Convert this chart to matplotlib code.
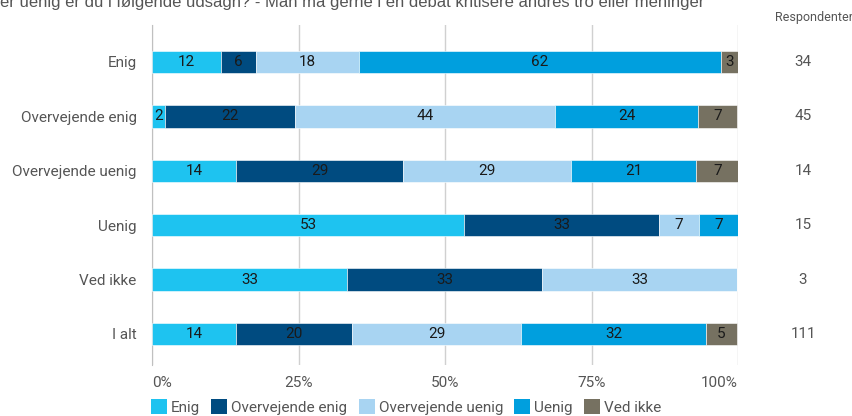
import numpy as np
import matplotlib.pyplot as plt
from matplotlib.patches import Patch

plt.rcParams['font.family'] = ['Roboto', 'DejaVu Sans']

# data
kategorier = ['Enig', 'Overvejende enig', 'Overvejende uenig', 'Uenig', 'Ved ikke', 'I alt']
respondenter = [34, 45, 14, 15, 3, 111]
serier = ['Enig', 'Overvejende enig', 'Overvejende uenig', 'Uenig', 'Ved ikke']
enig = [11.8, 2.2, 14.3, 53.3, 33.3, 14.4]
overv_enig = [5.9, 22.2, 28.6, 33.3, 33.3, 19.8]
overv_uenig = [17.6, 44.4, 28.6, 6.7, 33.3, 28.8]
uenig = [61.8, 24.4, 21.4, 6.7, 0, 31.5]
ved_ikke = [2.9, 6.7, 7.1, 0, 0, 5.4]
farver = ['#1ec3f0', '#004b80', '#a8d4f2', '#009fde', '#767161']

titel = 'er uenig er du i følgende udsagn? - Man må gerne i en debat kritisere andres tro eller meninger'

W, H = 852, 416
fig = plt.figure(figsize=(W / 100, H / 100), dpi=100)
x0, x1 = 152, 738
ax = fig.add_axes([x0 / W, 1 - 365 / H, (x1 - x0) / W, (365 - 25) / H])

y = np.arange(len(kategorier))
venstre = np.zeros(len(kategorier))
for navn, vals, farve in zip(serier, [enig, overv_enig, overv_uenig, uenig, ved_ikke], farver):
    vals = np.array(vals)
    ax.barh(y, vals, left=venstre, height=0.41, color=farve, edgecolor='white',
            linewidth=0.4, zorder=3)
    for i, v in enumerate(vals):
        if v > 0:
            ax.text(venstre[i] + v / 2, y[i], str(int(round(v))), ha='center', va='center',
                    fontsize=11, color='#1a1a1a', zorder=4)
    venstre += vals

ax.set_xlim(0, 100)
ax.set_ylim(5.57, -0.68)
ax.set_yticks(y)
ax.set_yticklabels(kategorier, fontsize=11, color='#555555')
ax.set_xticks([0, 25, 50, 75, 100])
xl = ax.set_xticklabels(['0%', '25%', '50%', '75%', '100%'], fontsize=11, color='#555555')
xl[0].set_ha('left')
xl[-1].set_ha('right')
ax.tick_params(axis='both', length=0)
ax.tick_params(axis='x', pad=8)
ax.tick_params(axis='y', pad=11)
ax.grid(axis='x', color='#d0d0d0', linewidth=1, zorder=0)
for s in ['top', 'right', 'bottom']:
    ax.spines[s].set_visible(False)
ax.spines['left'].set_color('#c0c0c0')

# respondenter kolonne
kol_x = (803 - x0) / (x1 - x0)
for i, n in enumerate(respondenter):
    ax.text(kol_x, y[i], str(n), transform=ax.get_yaxis_transform(), fontsize=11,
            color='#555555', ha='center', va='center')
fig.text(814 / W, 1 - 18 / H, 'Respondenter', fontsize=9, color='#555555',
         ha='center', va='center')

fig.text(0, 1 - 7 / H, titel, fontsize=12, color='#555555', ha='left', va='baseline',
         family=['Liberation Sans', 'DejaVu Sans'])

handles = [Patch(facecolor=c, label=l) for c, l in zip(farver, serier)]
fig.legend(handles=handles, loc='center left', bbox_to_anchor=(151 / W, 1 - 407 / H),
           ncol=5, frameon=False, fontsize=11, handlelength=1.05, handleheight=1.05,
           handletextpad=0.25, columnspacing=0.75, labelcolor='#555555', borderaxespad=0,
           borderpad=0)

fig.savefig('out.png', dpi=100)
